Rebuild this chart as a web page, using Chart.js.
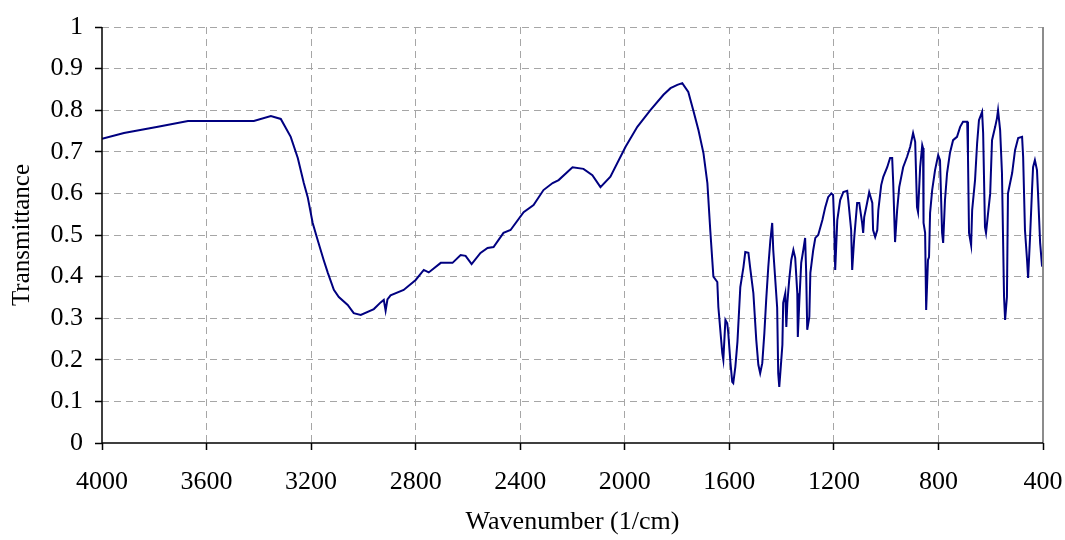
<!DOCTYPE html>
<html>
<head>
<meta charset="utf-8">
<title>Transmittance spectrum</title>
<script src="https://cdn.jsdelivr.net/npm/chart.js@4/dist/chart.umd.min.js"></script>
<style>
  html, body { margin: 0; padding: 0; background: #fff; }
  #wrap { width: 1065px; height: 540px; position: relative; }
</style>
</head>
<body>
<div id="wrap"><canvas id="spectrum"></canvas></div>
<script>
// wavenumbers (1/cm) from left to right
const wavenumbers = [
  4000, 3916, 3786, 3671, 3595, 3419, 3354, 3316, 3278, 3251,
  3228, 3213, 3194, 3175, 3152, 3136, 3113, 3094, 3060, 3037,
  3010, 2960, 2934, 2922, 2915, 2908,
  2896, 2846, 2800, 2769, 2750, 2704, 2659, 2628, 2609, 2586,
  2552, 2525, 2502, 2464, 2437, 2387, 2349, 2311, 2276, 2253,
  2200, 2158, 2124, 2093, 2055, 1997, 1952, 1902, 1852, 1825,
  1799, 1780, 1757, 1738, 1718, 1699, 1684, 1673, 1661, 1646,
  1642, 1627, 1623, 1615, 1608, 1604, 1596, 1589, 1585, 1577,
  1569, 1558, 1546, 1539, 1527, 1520, 1508, 1497, 1489, 1482,
  1474, 1466, 1459, 1451, 1443, 1436, 1432, 1417, 1413, 1409,
  1405, 1397, 1394, 1386, 1382, 1378, 1371, 1363, 1355, 1348,
  1340, 1338, 1332, 1325, 1317, 1310, 1306, 1302, 1294, 1290,
  1279, 1271, 1260, 1244, 1233, 1222, 1210, 1203, 1199, 1195,
  1187, 1176, 1164, 1149, 1145, 1134, 1130, 1122, 1111, 1103,
  1092, 1088, 1084, 1073, 1065, 1053, 1050, 1042, 1034, 1030,
  1019, 1011, 996, 985, 977, 973, 966, 958, 950, 935,
  920, 908, 897, 889, 882, 878, 870, 862, 859, 857,
  851, 847, 840, 836, 832, 824, 813, 801, 794, 786,
  782, 775, 767, 756, 744, 729, 717, 706, 690, 687,
  683, 675, 671, 660, 652, 645, 633, 629, 622, 618,
  610, 602, 595, 583, 576, 572, 564, 557, 549, 545,
  538, 534, 518, 507, 495, 480, 476, 469, 461, 457,
  450, 442, 438, 431, 423, 419, 411, 404, 400
];

// transmittance at each wavenumber above
const transmittance = [
  0.731, 0.745, 0.760, 0.774, 0.774, 0.774, 0.786, 0.779, 0.736, 0.685,
  0.625, 0.591, 0.529, 0.488, 0.440, 0.409, 0.368, 0.351, 0.332, 0.312,
  0.308, 0.322, 0.338, 0.344, 0.318, 0.345,
  0.355, 0.368, 0.392, 0.416, 0.410, 0.433, 0.433, 0.452, 0.450, 0.430,
  0.457, 0.469, 0.471, 0.505, 0.512, 0.555, 0.572, 0.608, 0.625, 0.632,
  0.663, 0.659, 0.644, 0.615, 0.640, 0.712, 0.760, 0.800, 0.837, 0.853,
  0.861, 0.865, 0.844, 0.800, 0.752, 0.697, 0.625, 0.512, 0.400, 0.387,
  0.327, 0.216, 0.200, 0.296, 0.288, 0.264, 0.195, 0.147, 0.144, 0.183,
  0.243, 0.375, 0.423, 0.459, 0.457, 0.420, 0.360, 0.248, 0.188, 0.168,
  0.192, 0.264, 0.344, 0.423, 0.488, 0.529, 0.464, 0.325, 0.168, 0.135,
  0.168, 0.236, 0.337, 0.360, 0.279, 0.337, 0.392, 0.440, 0.464, 0.445,
  0.360, 0.255, 0.344, 0.433, 0.464, 0.493, 0.409, 0.272, 0.303, 0.409,
  0.464, 0.493, 0.500, 0.536, 0.567, 0.591, 0.600, 0.596, 0.529, 0.416,
  0.536, 0.584, 0.603, 0.606, 0.584, 0.512, 0.416, 0.495, 0.577, 0.577,
  0.529, 0.505, 0.543, 0.577, 0.603, 0.577, 0.512, 0.495, 0.512, 0.560,
  0.620, 0.640, 0.663, 0.685, 0.685, 0.625, 0.483, 0.560, 0.615, 0.663,
  0.688, 0.712, 0.745, 0.724, 0.567, 0.555, 0.663, 0.716, 0.709, 0.529,
  0.505, 0.320, 0.440, 0.447, 0.553, 0.608, 0.656, 0.692, 0.680, 0.505,
  0.481, 0.584, 0.649, 0.697, 0.728, 0.736, 0.760, 0.772, 0.772, 0.688,
  0.505, 0.476, 0.560, 0.632, 0.721, 0.776, 0.796, 0.745, 0.519, 0.505,
  0.553, 0.600, 0.728, 0.760, 0.781, 0.800, 0.752, 0.649, 0.351, 0.296,
  0.351, 0.600, 0.649, 0.704, 0.733, 0.736, 0.688, 0.512, 0.440, 0.397,
  0.488, 0.608, 0.663, 0.680, 0.656, 0.600, 0.481, 0.428, 0.430
];

// axis ranges and tick steps
const xRange = [400, 4000];
const xStep = 400;
const yRange = [0, 1];
const yStep = 0.1;

const serif = "'Liberation Serif', 'Times New Roman', serif";
const gridGrey = '#a6a6a6';

// solid black axes on left/bottom, grey edge on the right
const frame = {
  id: 'frame',
  afterDraw(chart) {
    const { ctx, chartArea: a } = chart;
    ctx.save();
    ctx.strokeStyle = '#8c8c8c';
    ctx.lineWidth = 2;
    ctx.beginPath();
    ctx.moveTo(a.right, a.top);
    ctx.lineTo(a.right, a.bottom);
    ctx.stroke();
    ctx.strokeStyle = '#000';
    ctx.lineWidth = 1.5;
    ctx.beginPath();
    ctx.moveTo(a.left, a.top);
    ctx.lineTo(a.left, a.bottom);
    ctx.lineTo(a.right, a.bottom);
    ctx.stroke();
    ctx.restore();
  }
};

new Chart(document.getElementById('spectrum'), {
  type: 'line',
  data: {
    datasets: [{
      label: 'Transmittance',
      data: wavenumbers.map((w, i) => ({ x: w, y: transmittance[i] })),
      borderColor: '#000080',
      borderWidth: 2,
      pointRadius: 0,
      tension: 0,
      fill: false
    }]
  },
  options: {
    responsive: true,
    maintainAspectRatio: false,
    animation: false,
    layout: { padding: { top: 27, right: 22, bottom: 0, left: 0 } },
    plugins: {
      legend: { display: false },
      tooltip: { enabled: false }
    },
    scales: {
      x: {
        type: 'linear',
        reverse: true,
        min: xRange[0],
        max: xRange[1],
        afterFit: (s) => {
          s.height = 97;
          s.paddingLeft = 0;
          s.paddingRight = 0;
        },
        ticks: {
          stepSize: xStep,
          autoSkip: false,
          maxRotation: 0,
          padding: 17,
          color: '#000',
          font: { family: serif, size: 26 },
          callback: (v) => String(v)
        },
        grid: {
          color: (c) => (c.tick && c.tick.value === xRange[1] ? 'rgba(0,0,0,0)' : gridGrey),
          lineWidth: 1,
          tickLength: 7,
          tickColor: '#000',
          tickWidth: 1.5
        },
        border: { display: false, dash: [7, 5] },
        title: {
          display: true,
          text: 'Wavenumber (1/cm)',
          color: '#000',
          font: { family: serif, size: 26 },
          padding: { top: 0, bottom: 2 }
        }
      },
      y: {
        min: yRange[0],
        max: yRange[1],
        afterFit: (s) => {
          s.width = 102;
          s.paddingTop = 0;
          s.paddingBottom = 0;
        },
        ticks: {
          stepSize: yStep,
          padding: 12,
          color: '#000',
          font: { family: serif, size: 26 },
          callback: (v) => String(+v.toFixed(1))
        },
        grid: {
          color: (c) => (c.tick && c.tick.value === yRange[0] ? 'rgba(0,0,0,0)' : gridGrey),
          lineWidth: 1,
          tickLength: 7,
          tickColor: '#000',
          tickWidth: 1.5
        },
        border: { display: false, dash: [7, 5] },
        title: {
          display: true,
          text: 'Transmittance',
          color: '#000',
          font: { family: serif, size: 25 },
          padding: { top: 7, bottom: 0 }
        }
      }
    }
  },
  plugins: [frame]
});
</script>
</body>
</html>
